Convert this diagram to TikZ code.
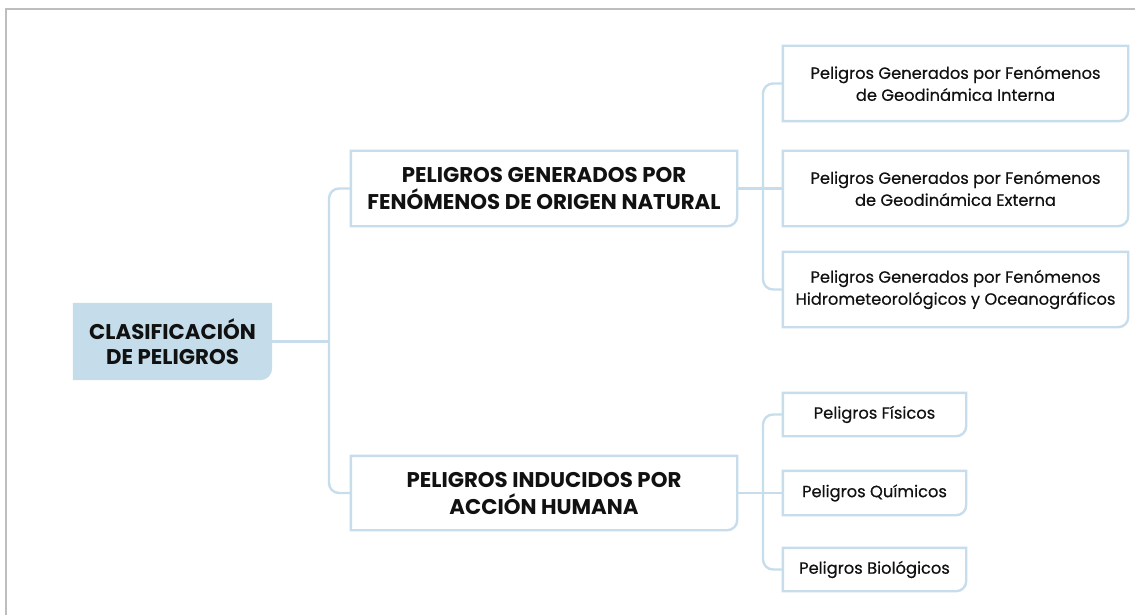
\documentclass[tikz,border=0pt]{standalone}
\usepackage{fontspec}
\setmainfont{Poppins}
\newfontfamily\leaffont{Poppins}[FakeBold=0.5]
\usetikzlibrary{calc}
\definecolor{lineblue}{RGB}{200,221,235}
\definecolor{rootfill}{RGB}{197,220,234}
\definecolor{framegray}{RGB}{190,190,190}
\definecolor{txt}{RGB}{17,17,17}
\tikzset{
  boxbase/.style={inner sep=0pt, align=center, text=txt},
  rootbox/.style={boxbase, minimum width=199pt, minimum height=77pt,
    font=\bfseries\fontsize{21.3}{25}\selectfont},
  midbox/.style={boxbase, minimum width=386pt, minimum height=75pt,
    font=\bfseries\fontsize{21.3}{27}\selectfont},
  leafbox/.style={boxbase, minimum width=345pt, minimum height=75pt,
    font=\leaffont\fontsize{16.3}{22}\selectfont},
  smallbox/.style={boxbase, minimum width=183pt, minimum height=43pt,
    font=\leaffont\fontsize{16.3}{22}\selectfont},
  outline/.style={draw=lineblue, line width=2.4pt},
  conn/.style={draw=lineblue, line width=2.4pt, rounded corners=10pt},
}
\begin{document}
\begin{tikzpicture}[x=1pt,y=-1pt]
\useasboundingbox (0,0) rectangle (1135,615);
% frame
\draw[framegray, line width=2pt] (6,615) -- (6,9) -- (1135,9);
% nodes
\node[rootbox] (root) at (172.5,341.5) {CLASIFICACIÓN\\DE PELIGROS};
\node[midbox] (nat) at (544,188.5) {PELIGROS GENERADOS POR\\FENÓMENOS DE ORIGEN NATURAL};
\node[midbox, minimum height=74pt] (hum) at (544,493) {PELIGROS INDUCIDOS POR\\ACCIÓN HUMANA};
\node[leafbox] (gi) at (955.5,83.5) {Peligros Generados por Fenómenos\\de Geodinámica Interna};
\node[leafbox] (ge) at (955.5,188.5) {Peligros Generados por Fenómenos\\de Geodinámica Externa};
\node[leafbox] (ho) at (955.5,289.5) {Peligros Generados por Fenómenos\\Hidrometeorológicos y Oceanográficos};
\node[smallbox] (fi) at (874.5,414.5) {Peligros Físicos};
\node[smallbox, minimum height=44pt] (qu) at (874.5,493) {Peligros Químicos};
\node[smallbox] (bi) at (874.5,569.5) {Peligros Biológicos};
% box outlines (only lower right corner rounded)
\fill[rootfill] (root.north west) -- (root.north east) -- ($(root.south east)+(0,-12)$)
  arc[start angle=0,end angle=90,radius=12] -- (root.south west) -- cycle;
\foreach \n in {nat,hum,gi,ge,ho,fi,qu,bi}{
  \draw[outline] (\n.north west) -- (\n.north east) -- ($(\n.south east)+(0,-10)$)
    arc[start angle=0,end angle=90,radius=10] -- (\n.south west) -- cycle;
}
\node[rootbox] at (root) {CLASIFICACIÓN\\DE PELIGROS};
% connectors
\coordinate (t0) at (329,341.5);
\coordinate (t1) at (763,188.5);
\coordinate (t2) at (763,493);
\draw[conn] (nat.west) -| (t0) |- (hum.west);
\draw[conn] (root.east) -- (t0);
\draw[conn] (gi.west) -| (t1) |- (ho.west);
\draw[conn] (nat.east) -- (ge.west);
\draw[conn] (fi.west) -| (t2) |- (bi.west);
\draw[conn] (hum.east) -- (qu.west);
\end{tikzpicture}
\end{document}
